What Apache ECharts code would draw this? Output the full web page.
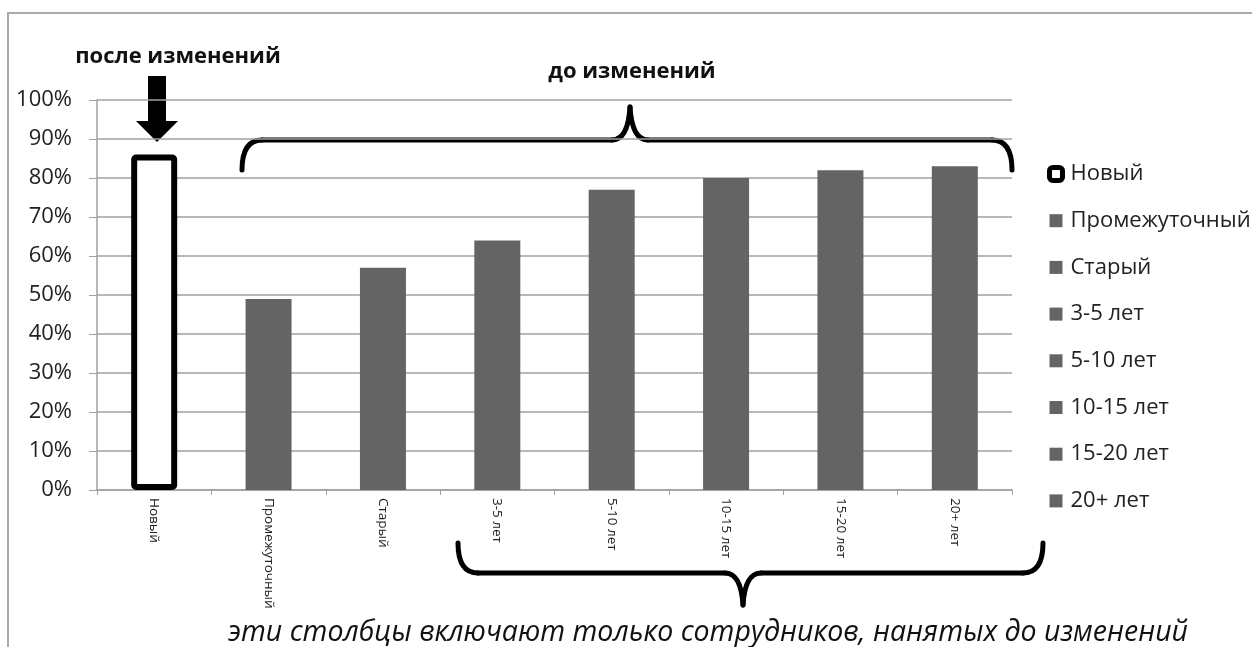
<!DOCTYPE html>
<html>
<head>
<meta charset="utf-8">
<script src="https://cdn.jsdelivr.net/npm/echarts@6/dist/echarts.min.js"></script>
<style>html,body{margin:0;padding:0;background:#fff}#c{width:1252px;height:647px}</style>
</head>
<body>
<div id="c"></div>
<script>
const categories = ['Новый','Промежуточный','Старый','3-5 лет','5-10 лет','10-15 лет','15-20 лет','20+ лет'];
const values = [86, 49, 57, 64, 77, 80, 82, 83];
const yTicks = [0,10,20,30,40,50,60,70,80,90,100];
const titleAfter = 'после изменений';
const titleBefore = 'до изменений';
const footnote = 'эти столбцы включают только сотрудников, нанятых до изменений';

const chart = echarts.init(document.getElementById('c'));
const font = '"Open Sans", "DejaVu Sans", sans-serif';

const series = categories.map((name, i) => {
  const isNew = i === 0;
  return {
    name: name,
    type: 'bar',
    stack: 'all',
    barWidth: 46,
    data: categories.map((c, j) => j === i ? values[j] : '-'),
    itemStyle: isNew
      ? {color: '#ffffff', borderColor: '#000000', borderWidth: 6, borderRadius: 2}
      : {color: '#646464'},
    emphasis: {disabled: true},
    animation: false
  };
});

const legendData = categories.map((name, i) => i === 0
  ? {name: name, icon: 'roundRect', itemStyle: {color: '#ffffff', borderColor: '#000000', borderWidth: 5, borderRadius: 2}}
  : {name: name, icon: 'rect', itemStyle: {color: '#646464', borderWidth: 0}});

const stroke = {stroke: '#000', lineWidth: 5, fill: null, lineCap: 'round'};
function seg(x1, y1, x2, y2) { return {type: 'line', shape: {x1, y1, x2, y2}, style: stroke, silent: true}; }
function quad(x1, y1, cx, cy, x2, y2) { return {type: 'bezierCurve', shape: {x1, y1, cpx1: cx, cpy1: cy, x2, y2}, style: stroke, silent: true}; }

const braces = [
  // top brace
  quad(242, 170, 242, 140, 262, 140), seg(262, 140, 612, 140),
  quad(612, 140, 628, 140, 630, 107), quad(630, 107, 632, 140, 648, 140),
  seg(648, 140, 992, 140), quad(992, 140, 1012, 140, 1012, 170),
  // bottom brace
  quad(458, 543, 458, 573, 478, 573), seg(478, 573, 725, 573),
  quad(725, 573, 741, 573, 743, 605), quad(743, 605, 745, 573, 761, 573),
  seg(761, 573, 1023, 573), quad(1023, 573, 1043, 573, 1043, 543)
];

chart.setOption({
  animation: false,
  grid: {left: 97, right: 240, top: 100, bottom: 157, containLabel: false},
  xAxis: {
    type: 'category',
    data: categories,
    axisLine: {lineStyle: {color: '#a0a0a0', width: 1.5}},
    axisTick: {show: true, length: 5, lineStyle: {color: '#a0a0a0'}},
    axisLabel: {rotate: -90, fontSize: 13.5, color: '#222', fontFamily: font, margin: 8, interval: 0}
  },
  yAxis: {
    type: 'value',
    min: 0, max: 100, interval: 10,
    axisLine: {show: true, lineStyle: {color: '#a0a0a0', width: 1.5}},
    axisTick: {show: true, length: 8, lineStyle: {color: '#a0a0a0'}},
    splitLine: {lineStyle: {color: '#a0a0a0', width: 1.5}},
    axisLabel: {fontSize: 22, color: '#222', fontFamily: font, margin: 25,
      formatter: v => yTicks.includes(v) ? v + '%' : ''}
  },
  legend: {
    orient: 'vertical',
    left: 1042,
    top: 157,
    itemWidth: 13,
    itemHeight: 13,
    itemGap: 22.7,
    selectedMode: false,
    data: legendData,
    textStyle: {fontSize: 22, color: '#222', fontFamily: font, lineHeight: 24, padding: [0,0,0,3]}
  },
  series: series,
  graphic: [
    {type: 'polyline', shape: {points: [[8,647],[8,13],[1252,13]]}, style: {stroke: '#aaaaaa', lineWidth: 2, fill: null}, silent: true},
    {type: 'text', x: 178, y: 57, style: {text: titleAfter, font: 'bold 22px ' + font, fill: '#111', align: 'center', verticalAlign: 'middle'}},
    {type: 'text', x: 632, y: 72, style: {text: titleBefore, font: 'bold 22px ' + font, fill: '#111', align: 'center', verticalAlign: 'middle'}},
    {type: 'polygon', shape: {points: [[148,76],[166,76],[166,121],[178,121],[157,142],[136,121],[148,121]]}, style: {fill: '#000'}},
    ...braces,
    {type: 'text', x: 708, y: 633, style: {text: footnote, font: 'italic 28.5px ' + font, fill: '#111', align: 'center', verticalAlign: 'middle'}}
  ]
});
</script>
</body>
</html>
